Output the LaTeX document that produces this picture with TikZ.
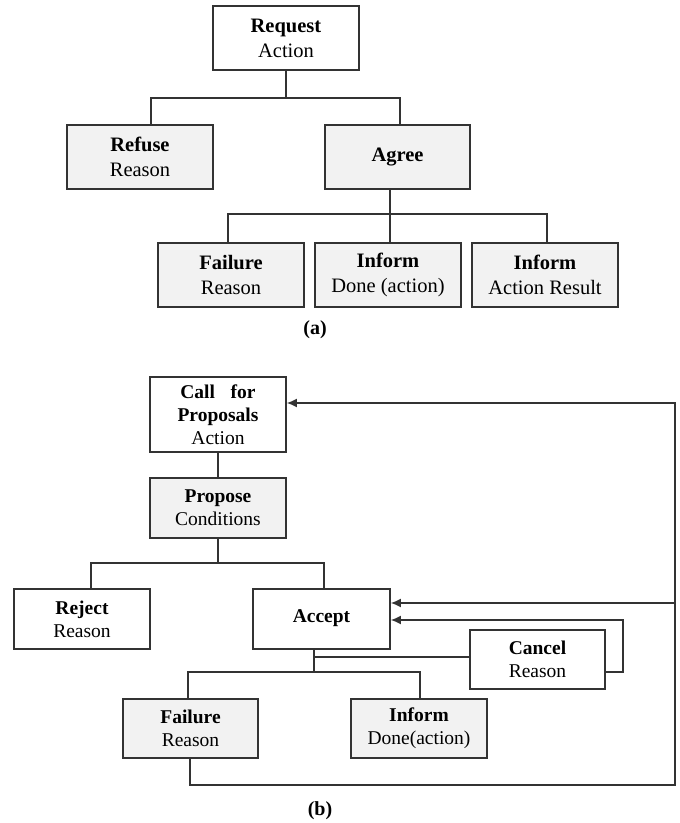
\documentclass[tikz,border=0pt]{standalone}
\usepackage{fontspec}
\setmainfont{Liberation Serif}
\usetikzlibrary{arrows.meta}
\definecolor{edge}{HTML}{333333}
\definecolor{shade}{HTML}{F2F2F2}
\begin{document}
\begin{tikzpicture}[x=1pt,y=-1pt,
  box/.style={draw=edge, line width=1.8pt, align=center, inner sep=0pt, font=\fontsize{20.5}{25}\selectfont},
  boxb/.style={box, font=\fontsize{19.5}{23}\selectfont},
  grey/.style={fill=shade},
  wire/.style={draw=edge, line width=1.4pt},
  arr/.style={wire, -{Latex[length=10pt,width=9pt]}},
  subcap/.style={font=\fontsize{20}{24}\selectfont\bfseries}
]
\useasboundingbox[fill=white] (0,0) rectangle (680,823);

% ---------- (a) ----------
\node[box, minimum width=146pt, minimum height=64pt] (req) at (286,38) {\textbf{Request}\\Action};
\node[box,grey, minimum width=146pt, minimum height=64pt] (ref) at (140,157) {\textbf{Refuse}\\Reason};
\node[box,grey, minimum width=145pt, minimum height=64pt] (agr) at (397.5,157) {\raisebox{5pt}{\textbf{Agree}}};
\node[box,grey, minimum width=146pt, minimum height=64pt] (failA) at (231,275) {\textbf{Failure}\\Reason};
\node[box,grey, minimum width=146pt, minimum height=64pt] (infA) at (388,275) {\textbf{Inform}\\Done (action)};
\node[box,grey, minimum width=146pt, minimum height=64pt] (infA2) at (545,275) {\textbf{Inform}\\Action Result};

\coordinate (ja) at (286,98);
\draw[wire] (req.south) -- (ja);
\draw[wire] ([xshift=11pt]ref.north) |- (ja) -| ([xshift=2.5pt]agr.north);
\coordinate (jb) at (390,214);
\draw[wire] ([xshift=-7.5pt]agr.south) -- (jb);
\draw[wire] ([xshift=-3pt]failA.north) |- (jb) -| ([xshift=2pt]infA2.north);
\draw[wire] (jb) -- (jb |- infA.north);

\node[subcap] (la) at (315,330) {(a)};

% ---------- (b) ----------
\node[boxb, minimum width=136pt, minimum height=75pt] (cfp) at (218,414.5) {\textbf{Call\hspace{0.8em}for}\\\textbf{Proposals}\\Action};
\node[boxb,grey, minimum width=136pt, minimum height=60pt] (prop) at (218,508) {\textbf{Propose}\\Conditions};
\node[boxb, minimum width=136pt, minimum height=60pt] (rej) at (82,619) {\textbf{Reject}\\Reason};
\node[boxb, minimum width=137pt, minimum height=60pt] (acc) at (321.5,619) {\raisebox{6pt}{\textbf{Accept}}};
\node[boxb, minimum width=135pt, minimum height=59pt] (can) at (537.5,659.5) {\textbf{Cancel}\\Reason};
\node[boxb,grey, minimum width=135pt, minimum height=59pt] (failB) at (190.5,728.5) {\textbf{Failure}\\Reason};
\node[boxb,grey, minimum width=136pt, minimum height=59pt] (infB) at (419,728.5) {\textbf{Inform}\\Done(action)};

\draw[wire] (cfp.south) -- (prop.north);
\coordinate (jc) at (218,563);
\draw[wire] (prop.south) -- (jc);
\draw[wire] ([xshift=9pt]rej.north) |- (jc) -| ([xshift=2.5pt]acc.north);
\coordinate (jd) at (314,672);
\coordinate (je) at (314,657);
\draw[wire] ([xshift=-7.5pt]acc.south) -- (jd);
\draw[wire] (je) -- (je -| can.west);
\draw[wire] ([xshift=-2.5pt]failB.north) |- (jd) -| ([xshift=1pt]infB.north);

\coordinate (lc) at (623,620);
\draw[arr] ([yshift=-12.5pt]can.east) -| (lc) -- (lc -| acc.east);
\coordinate (r1) at (675,785);
\draw[arr] ([xshift=-0.5pt]failB.south) |- (r1) |- ([yshift=11.5pt]cfp.east);
\coordinate (r2) at (675,603);
\draw[arr] (r2) -- (r2 -| acc.east);

\node[subcap] (lb) at (320,811) {(b)};
\end{tikzpicture}
\end{document}
